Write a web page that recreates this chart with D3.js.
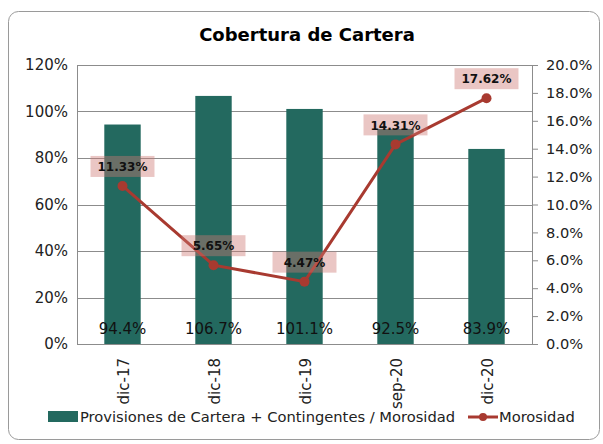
<!DOCTYPE html>
<html lang="es">
<head>
    <meta charset="UTF-8">
    <title>Cobertura de Cartera</title>
    <script src="https://d3js.org/d3.v7.min.js"></script>
    <style>
        body { margin: 0; background: #fff; }
        text { font-family: "DejaVu Sans", Verdana, sans-serif; }
    </style>
</head>
<body>

    <script>
        // Data
        const categories = ['dic-17', 'dic-18', 'dic-19', 'sep-20', 'dic-20'];
        const cobertura = [94.4, 106.7, 101.1, 92.5, 83.9];
        const morosidad = [11.33, 5.65, 4.47, 14.31, 17.62];
        const leftTicks = [0, 20, 40, 60, 80, 100, 120];
        const rightTicks = [0, 2, 4, 6, 8, 10, 12, 14, 16, 18, 20];

        const W = 603, H = 444;
        const margin = { top: 65, right: 71, bottom: 100, left: 77 };
        const width = W - margin.left - margin.right;
        const height = H - margin.top - margin.bottom;

        const barColor = '#23695f';
        const lineColor = '#a83a30';

        const root = d3.select('body')
            .append('svg')
            .attr('width', W)
            .attr('height', H);

        // Chart frame
        root.append('rect')
            .attr('x', 8.5).attr('y', 11.5)
            .attr('width', 591).attr('height', 428)
            .attr('rx', 10)
            .attr('fill', '#fff')
            .attr('stroke', '#9a9a9a');

        root.append('text')
            .attr('x', 307).attr('y', 41)
            .attr('text-anchor', 'middle')
            .style('font-size', '18px')
            .style('font-weight', 'bold')
            .text('Cobertura de Cartera');

        const svg = root.append('g')
            .attr('transform', 'translate(' + margin.left + ',' + margin.top + ')');

        // Scales
        const x = d3.scaleBand().domain(categories).range([0, width]).paddingInner(0.6).paddingOuter(0.3);
        const yL = d3.scaleLinear().domain([0, 120]).range([height, 0]);
        const yR = d3.scaleLinear().domain([0, 20]).range([height, 0]);

        // Gridlines
        svg.append('g')
            .selectAll('line')
            .data(leftTicks)
            .enter()
            .append('line')
            .attr('x1', 0).attr('x2', width)
            .attr('y1', d => Math.round(yL(d)) + 0.5)
            .attr('y2', d => Math.round(yL(d)) + 0.5)
            .attr('stroke', '#8c8c8c')
            .attr('stroke-width', 1);

        // Left axis
        const axL = svg.append('g')
            .call(d3.axisLeft(yL).tickValues(leftTicks).tickFormat(d => d + '%').tickSize(0).tickPadding(9));
        axL.select('.domain').attr('stroke', '#8c8c8c');
        axL.selectAll('text').style('font-size', '15px').attr('fill', '#222');

        // Right axis
        const axR = svg.append('g')
            .attr('transform', 'translate(' + width + ',0)')
            .call(d3.axisRight(yR).tickValues(rightTicks).tickFormat(d => d.toFixed(1) + '%').tickSize(6).tickPadding(8));
        axR.select('.domain').attr('stroke', '#8c8c8c');
        axR.selectAll('line').attr('stroke', '#8c8c8c');
        axR.selectAll('text').style('font-size', '14.6px').attr('fill', '#222');

        // Bars
        svg.selectAll('rect.bar')
            .data(cobertura)
            .enter()
            .append('rect')
            .attr('class', 'bar')
            .attr('x', (d, i) => x(categories[i]))
            .attr('y', d => yL(d))
            .attr('width', x.bandwidth())
            .attr('height', d => height - yL(d))
            .attr('fill', barColor);

        // Bar labels
        svg.selectAll('text.blabel')
            .data(cobertura)
            .enter()
            .append('text')
            .attr('class', 'blabel')
            .attr('x', (d, i) => x(categories[i]) + x.bandwidth() / 2)
            .attr('y', height - 10)
            .attr('text-anchor', 'middle')
            .style('font-size', '15px')
            .attr('fill', '#111')
            .text(d => d.toFixed(1) + '%');

        // Category labels (rotated)
        svg.append('g')
            .attr('transform', 'translate(0,' + height + ')')
            .selectAll('text')
            .data(categories)
            .enter()
            .append('text')
            .attr('transform', d => 'translate(' + (x(d) + x.bandwidth() / 2 + 6) + ',14) rotate(-90)')
            .attr('text-anchor', 'end')
            .style('font-size', '15px')
            .attr('fill', '#222')
            .text(d => d);

        // Line
        const cx = i => x(categories[i]) + x.bandwidth() / 2;
        const line = d3.line()
            .x((d, i) => cx(i))
            .y(d => yR(d));

        svg.append('path')
            .datum(morosidad)
            .attr('d', line)
            .attr('fill', 'none')
            .attr('stroke', lineColor)
            .attr('stroke-width', 3);

        svg.selectAll('circle')
            .data(morosidad)
            .enter()
            .append('circle')
            .attr('cx', (d, i) => cx(i))
            .attr('cy', d => yR(d))
            .attr('r', 5)
            .attr('fill', lineColor);

        // Line labels with pink boxes
        const lbl = svg.selectAll('g.llabel')
            .data(morosidad)
            .enter()
            .append('g')
            .attr('class', 'llabel')
            .attr('transform', (d, i) => 'translate(' + cx(i) + ',' + (yR(d) - 19) + ')');

        lbl.append('rect')
            .attr('x', -32).attr('y', -11)
            .attr('width', 64).attr('height', 21)
            .attr('fill', 'rgba(205,120,115,0.42)');

        lbl.append('text')
            .attr('text-anchor', 'middle')
            .attr('dy', '0.35em')
            .style('font-size', '12px')
            .style('font-weight', 'bold')
            .attr('fill', '#111')
            .text(d => d.toFixed(2) + '%');

        // Legend
        const leg = root.append('g').attr('transform', 'translate(48,417)');
        leg.append('rect')
            .attr('x', 0).attr('y', -6)
            .attr('width', 30).attr('height', 11)
            .attr('fill', barColor);
        leg.append('text')
            .attr('x', 32).attr('y', 0)
            .attr('dy', '0.35em')
            .style('font-size', '14.7px')
            .attr('fill', '#222')
            .text('Provisiones de Cartera + Contingentes / Morosidad');

        const leg2 = root.append('g').attr('transform', 'translate(468,417)');
        leg2.append('line')
            .attr('x1', 0).attr('x2', 30)
            .attr('stroke', lineColor).attr('stroke-width', 3);
        leg2.append('circle')
            .attr('cx', 15).attr('r', 4)
            .attr('fill', lineColor);
        leg2.append('text')
            .attr('x', 31).attr('y', 0)
            .attr('dy', '0.35em')
            .style('font-size', '14.7px')
            .attr('fill', '#222')
            .text('Morosidad');
    </script>

</body>
</html>
